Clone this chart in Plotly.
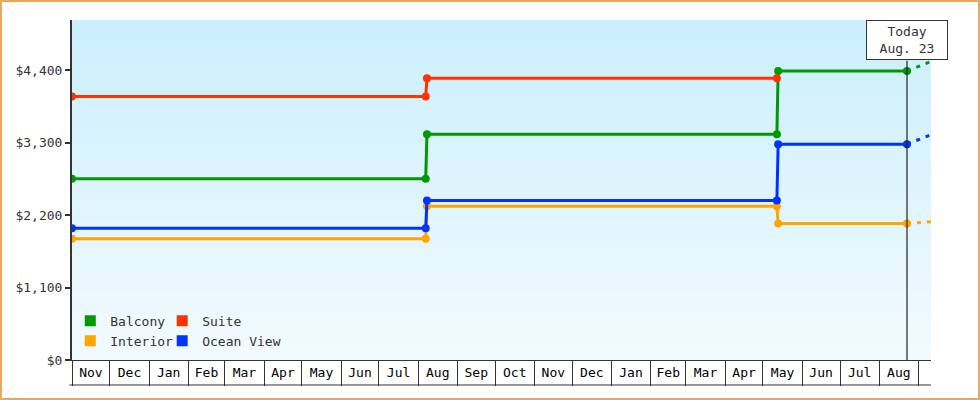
import plotly.graph_objects as go

# fares per cabin type, step dates
step_dates = ["2023-11-01", "2024-08-07", "2024-08-08", "2025-05-12", "2025-05-13", "2025-08-23"]
suite_dates = ["2023-11-01", "2024-08-07", "2024-08-08", "2025-05-12"]
balcony = [2750, 2750, 3425, 3425, 4385, 4385]
suite = [4000, 4000, 4275, 4275]
interior = [1840, 1840, 2335, 2335, 2070, 2070]
ocean_view = [2000, 2000, 2420, 2420, 3275, 3275]

# projection after today
proj_dates = ["2025-08-23", "2025-09-11"]
balcony_proj = [4385, 4530]
interior_proj = [2070, 2100]
ocean_view_proj = [3275, 3420]

today = "2025-08-23"
today_label = "Today<br>Aug. 23"
x_range = ["2023-11-01", "2025-09-11"]
y_range = [0, 5160]
y_ticks = [0, 1100, 2200, 3300, 4400]
y_ticktext = ["$0", "$1,100", "$2,200", "$3,300", "$4,400"]

FONT = "DejaVu Sans Mono"
INK = "#333333"
colors = {"Balcony": "#009900", "Suite": "#FF3300", "Interior": "#FFA500", "Ocean View": "#0033FF"}

fig = go.Figure()

series = [
    ("Balcony", step_dates, balcony),
    ("Suite", suite_dates, suite),
    ("Interior", step_dates, interior),
    ("Ocean View", step_dates, ocean_view),
]
for name, xs, ys in series:
    fig.add_trace(go.Scatter(x=xs, y=ys, mode="lines+markers", name=name, showlegend=False,
                             line=dict(color=colors[name], width=3),
                             marker=dict(color=colors[name], size=8)))

for name, ys in [("Balcony", balcony_proj), ("Interior", interior_proj), ("Ocean View", ocean_view_proj)]:
    fig.add_trace(go.Scatter(x=proj_dates, y=ys, mode="lines", showlegend=False, hoverinfo="skip",
                             line=dict(color=colors[name], width=3, dash="4px,6px")))

# legend: two columns -> two legends
for name, leg in [("Balcony", "legend"), ("Interior", "legend"), ("Suite", "legend2"), ("Ocean View", "legend2")]:
    fig.add_trace(go.Scatter(x=[None], y=[None], mode="markers", name=name, legend=leg,
                             marker=dict(symbol="square", size=11, color=colors[name])))

# empty trace so the month-cell divider axis gets drawn
fig.add_trace(go.Scatter(x=[None], y=[None], xaxis="x2", showlegend=False, hoverinfo="skip"))

# gradient background of plot area
n = 80
top, bot = (203, 239, 252), (242, 250, 254)
for i in range(n):
    t = i / (n - 1)
    c = tuple(round(bot[k] + (top[k] - bot[k]) * t) for k in range(3))
    fig.add_shape(type="rect", xref="paper", yref="paper", x0=0, x1=1, y0=i / n, y1=min(1, (i + 2) / n),
                  fillcolor="rgb(%d,%d,%d)" % c, line_width=0, layer="below")

# bottom line of month cells
fig.add_shape(type="line", xref="paper", yref="paper", x0=-0.003, x1=1, y0=-0.0735, y1=-0.0735,
              line=dict(color=INK, width=1))
# today marker
fig.add_shape(type="line", xref="x", yref="paper", x0=today, x1=today, y0=0, y1=0.88,
              line=dict(color="#222222", width=1.2))
fig.add_annotation(x=today, xref="x", y=1, yref="paper", yanchor="top", text=today_label,
                   showarrow=False, bgcolor="white", bordercolor=INK, borderwidth=1,
                   width=76, height=34, borderpad=2, font=dict(family=FONT, size=13, color=INK))
# outer border
fig.add_shape(type="rect", xref="paper", yref="paper", x0=-0.0827, x1=1.0559, y0=-0.1147, y1=1.0559,
              line=dict(color="#E8A862", width=2))

fig.update_layout(
    xaxis=dict(type="date", range=x_range, dtick="M1", tick0="2023-11-01", tickformat="%b",
               ticklabelmode="period", ticks="", showgrid=False, showline=True,
               linecolor=INK, linewidth=1, tickfont=dict(family=FONT, size=13, color="black")),
    xaxis2=dict(type="date", overlaying="x", matches="x", side="bottom", range=x_range,
                dtick="M1", tick0="2023-11-01", ticks="outside", ticklen=25, tickwidth=1,
                tickcolor=INK, showticklabels=False, showgrid=False, showline=False, zeroline=False),
    yaxis=dict(range=y_range, tickvals=y_ticks, ticktext=y_ticktext, showgrid=False,
               zeroline=False, showline=True, linecolor=INK, linewidth=2, ticks="outside",
               ticklen=5, tickwidth=2, tickcolor=INK, tickfont=dict(family=FONT, size=13, color=INK)),
)

legend_style = dict(bgcolor="rgba(0,0,0,0)", font=dict(family=FONT, size=13, color=INK),
                    yanchor="bottom", y=0.012, xanchor="left", tracegroupgap=0, itemwidth=30)
fig.update_layout(
    width=980, height=400,
    margin=dict(l=72, r=49, t=20, b=40),
    paper_bgcolor="white", plot_bgcolor="white",
    font=dict(family=FONT, size=13, color=INK),
    legend=dict(x=-0.002, **legend_style),
    legend2=dict(x=0.105, **legend_style),
)

fig.write_html("out.html", config={"displayModeBar": False},
               post_script="document.body.style.margin='0';")
